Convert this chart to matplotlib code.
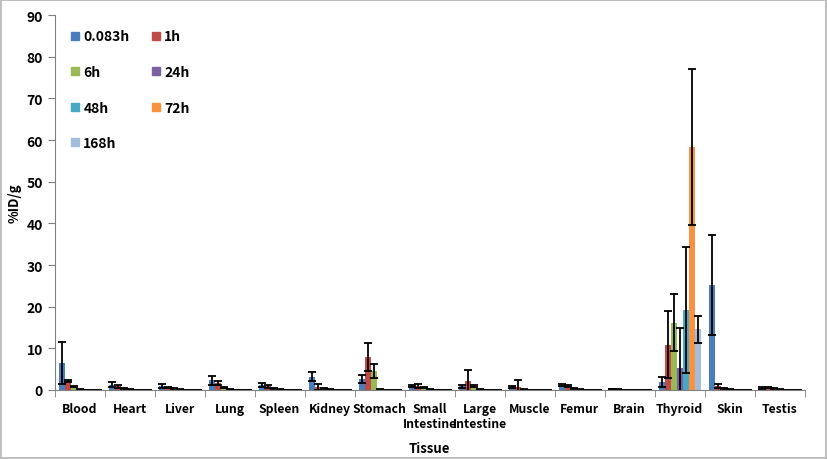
import matplotlib
matplotlib.use("Agg")
import matplotlib.pyplot as plt
import numpy as np
from matplotlib.lines import Line2D

plt.rcParams["font.family"] = ["Noto Sans CJK KR", "DejaVu Sans"]
plt.rcParams["font.weight"] = "bold"

tissues = ["Blood", "Heart", "Liver", "Lung", "Spleen", "Kidney", "Stomach",
           "Small\nIntestine", "Large\nIntestine", "Muscle", "Femur", "Brain",
           "Thyroid", "Skin", "Testis"]
series = ["0.083h", "1h", "6h", "24h", "48h", "72h", "168h"]
colors = ["#4A7EBB", "#BE4B48", "#98B954", "#7D60A0", "#46AAC5", "#F69240", "#A5BDDD"]

# mean %ID/g per time point
m_0083 = [6.5, 1.3, 1.0, 2.3, 1.2, 3.2, 2.6, 1.0, 0.9, 0.7, 1.2, 0.2, 2.0, 25.2, 0.5]
m_1 = [2.2, 0.9, 0.6, 1.7, 0.9, 0.8, 8.0, 1.0, 2.2, 0.8, 0.9, 0.1, 10.9, 1.0, 0.6]
m_6 = [0.8, 0.4, 0.3, 0.7, 0.4, 0.4, 4.6, 0.6, 0.9, 0.1, 0.3, 0.05, 16.2, 0.3, 0.3]
m_24 = [0.1, 0.1, 0.1, 0.1, 0.1, 0.1, 0.1, 0.1, 0.1, 0.05, 0.1, 0.02, 5.4, 0.1, 0.1]
m_48 = [0.05, 0.05, 0.05, 0.05, 0.05, 0.05, 0.05, 0.05, 0.05, 0.02, 0.05, 0.02, 19.2, 0.05, 0.05]
m_72 = [0.03, 0.03, 0.03, 0.03, 0.03, 0.03, 0.03, 0.03, 0.03, 0.02, 0.03, 0.02, 58.3, 0.03, 0.03]
m_168 = [0.02, 0.02, 0.02, 0.02, 0.02, 0.02, 0.02, 0.02, 0.02, 0.02, 0.02, 0.02, 14.6, 0.02, 0.02]

# standard deviations
s_0083 = [5.0, 0.6, 0.4, 1.0, 0.5, 1.1, 1.0, 0.3, 0.3, 0.3, 0.3, 0.05, 1.2, 12.1, 0.2]
s_1 = [0.2, 0.3, 0.2, 0.4, 0.3, 0.7, 3.4, 0.4, 2.5, 1.6, 0.2, 0.05, 8.0, 0.5, 0.2]
s_6 = [0.1, 0.1, 0.1, 0.1, 0.1, 0.1, 1.6, 0.1, 0.2, 0.1, 0.1, 0.02, 6.8, 0.1, 0.1]
s_24 = [0.05, 0.05, 0.05, 0.05, 0.05, 0.05, 0.05, 0.05, 0.05, 0.02, 0.05, 0.01, 9.5, 0.05, 0.05]
s_48 = [0.02, 0.02, 0.02, 0.02, 0.02, 0.02, 0.02, 0.02, 0.02, 0.01, 0.02, 0.01, 15.2, 0.02, 0.02]
s_72 = [0.01, 0.01, 0.01, 0.01, 0.01, 0.01, 0.01, 0.01, 0.01, 0.01, 0.01, 0.01, 18.8, 0.01, 0.01]
s_168 = [0.01, 0.01, 0.01, 0.01, 0.01, 0.01, 0.01, 0.01, 0.01, 0.01, 0.01, 0.01, 3.2, 0.01, 0.01]

means = [m_0083, m_1, m_6, m_24, m_48, m_72, m_168]
sds = [s_0083, s_1, s_6, s_24, s_48, s_72, s_168]

fig = plt.figure(figsize=(8.27, 4.6), dpi=100)
fig.patch.set_edgecolor("#BFBFBF")
fig.patch.set_linewidth(1.5)
ax = fig.add_axes([0.066, 0.15, 0.907, 0.815])

x = np.arange(len(tissues))
w = 0.12
for i, (name, c) in enumerate(zip(series, colors)):
    ax.bar(x + (i - 3) * w, means[i], width=w, color=c, label=name,
           yerr=sds[i], ecolor="black", error_kw=dict(elinewidth=1.3, capsize=3, capthick=1.3))

ax.set_xlim(-0.5, len(tissues) - 0.5)
ax.set_ylim(0, 90)
ax.set_yticks(np.arange(0, 91, 10))
ax.set_xticks(x)
ax.set_xticklabels(tissues, fontsize=8.8, fontweight="bold", linespacing=1.15)
ax.set_xticks(np.arange(-0.5, len(tissues), 1), minor=True)
ax.tick_params(axis="x", which="major", length=0, pad=9)
ax.tick_params(axis="x", which="minor", length=5, color="#808080")
ax.tick_params(axis="y", length=5, color="#808080", labelsize=10)
for lab in ax.get_yticklabels():
    lab.set_fontweight("bold")
for s in ["top", "right"]:
    ax.spines[s].set_visible(False)
for s in ["left", "bottom"]:
    ax.spines[s].set_color("#808080")

ax.set_xlabel("Tissue", fontsize=9.5, fontweight="bold", labelpad=8)
ax.set_ylabel("%ID/g", fontsize=9.5, fontweight="bold", labelpad=3)

# legend filled row by row like the original (matplotlib fills by column)
order = [0, 2, 4, 6, 1, 3, 5]
handles = [Line2D([0], [0], marker="s", linestyle="none", markersize=6,
                  markerfacecolor=colors[k], markeredgecolor=colors[k]) for k in order]
labels = [series[k] for k in order]
ax.legend(handles, labels, ncol=2, loc="upper left", bbox_to_anchor=(0.005, 0.995),
          frameon=False, handlelength=0.6, handletextpad=0.3, columnspacing=1.6,
          labelspacing=1.55, prop={"weight": "bold", "size": 10})

fig.savefig("out.png", dpi=100)
